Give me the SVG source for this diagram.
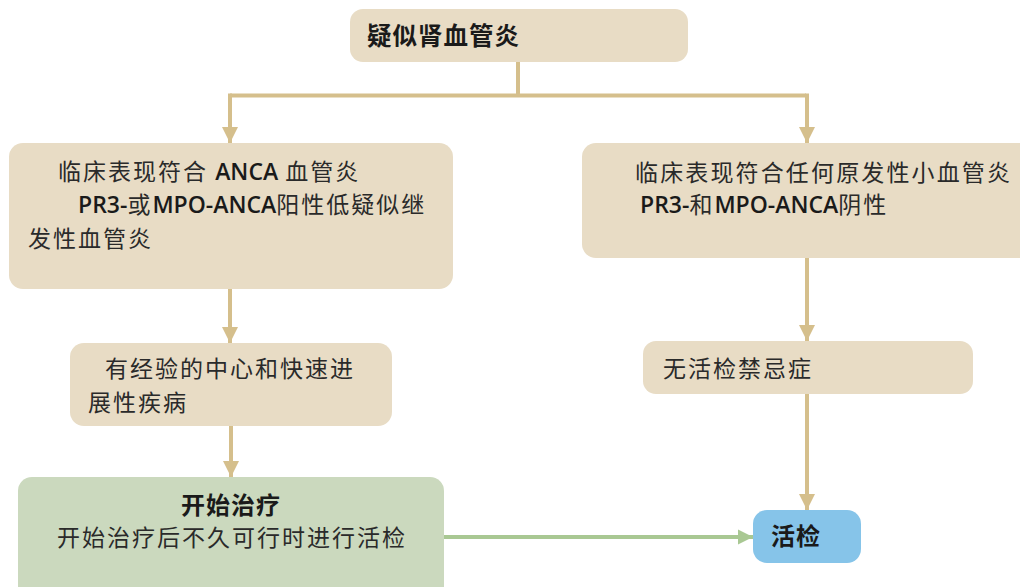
<svg xmlns="http://www.w3.org/2000/svg" width="1020" height="587" viewBox="0 0 1020 587">
<style>
.beige{fill:#e8dcc5;}
.green{fill:#cbd9be;}
.blue{fill:#86c4e9;}
.t{font-family:"Noto Sans CJK SC","Noto Sans",sans-serif;font-size:23px;fill:#2a2a2a;letter-spacing:2px;}
.b{font-family:"Noto Sans CJK SC","Noto Sans",sans-serif;font-size:24px;font-weight:bold;fill:#1a1a1a;letter-spacing:1px;}
.lat{font-family:"Open Sans","Noto Sans",sans-serif;font-weight:600;fill:#1a1a1a;letter-spacing:0px;}
.c{fill:none;stroke:#d5bf8c;stroke-width:4;}
.cg{fill:none;stroke:#a9c893;stroke-width:4;}
</style>
<defs>
<marker id="ah" viewBox="0 0 10 10" refX="10" refY="5" markerWidth="4.2" markerHeight="4" markerUnits="strokeWidth" orient="auto">
<path d="M0,0 L10,5 L0,10 Z" fill="#d5bf8c"/>
</marker>
<marker id="ahg" viewBox="0 0 10 10" refX="10" refY="5" markerWidth="3.8" markerHeight="4.2" markerUnits="strokeWidth" orient="auto">
<path d="M0,0 L10,5 L0,10 Z" fill="#a9c893"/>
</marker>
</defs>
<rect width="1020" height="587" fill="#ffffff"/>
<g id="connectors">
<path class="c" d="M518,62 V95.5 M230,95.5 H806"/>
<path class="c" d="M230,93.5 V143" marker-end="url(#ah)"/>
<path class="c" d="M807,93.5 V143" marker-end="url(#ah)"/>
<path class="c" d="M230,289 V343" marker-end="url(#ah)"/>
<path class="c" d="M807,258 V341" marker-end="url(#ah)"/>
<path class="c" d="M231,426 V477" marker-end="url(#ah)"/>
<path class="c" d="M807,394 V510" marker-end="url(#ah)"/>
<path class="cg" d="M444,537 H753" marker-end="url(#ahg)"/>
</g>
<g id="n-suspect">
<rect class="beige" x="350" y="9" width="338" height="53" rx="13"/>
<text class="b" x="367" y="45" style="font-size:24.5px">疑似肾血管炎</text>
</g>
<g id="n-anca">
<rect class="beige" x="9" y="143" width="444" height="146" rx="14"/>
<text class="t" x="58" y="180">临床表现符合 <tspan class="lat">ANCA</tspan> 血管炎</text>
<text class="t" x="78" y="213"><tspan class="lat">PR3-</tspan>或<tspan class="lat">MPO-ANCA</tspan>阳性低疑似继</text>
<text class="t" x="28" y="247">发性血管炎</text>
</g>
<g id="n-other">
<rect class="beige" x="582" y="143" width="458" height="115" rx="14"/>
<text class="t" x="635" y="181" textLength="377" lengthAdjust="spacing">临床表现符合任何原发性小血管炎</text>
<text class="t" x="640" y="213"><tspan class="lat">PR3-</tspan>和<tspan class="lat">MPO-ANCA</tspan>阴性</text>
</g>
<g id="n-center">
<rect class="beige" x="70" y="343" width="322" height="83" rx="14"/>
<text class="t" x="105" y="377">有经验的中心和快速进</text>
<text class="t" x="88" y="411">展性疾病</text>
</g>
<g id="n-nocontra">
<rect class="beige" x="643" y="341" width="330" height="53" rx="13"/>
<text class="t" x="663" y="377">无活检禁忌症</text>
</g>
<g id="n-treat">
<rect class="green" x="18" y="477" width="426" height="130" rx="14"/>
<text class="b" x="231" y="514" text-anchor="middle">开始治疗</text>
<text class="t" x="232" y="546" text-anchor="middle">开始治疗后不久可行时进行活检</text>
</g>
<g id="n-biopsy">
<rect class="blue" x="753" y="510" width="108" height="53" rx="14"/>
<text class="b" x="771" y="545">活检</text>
</g>
</svg>
